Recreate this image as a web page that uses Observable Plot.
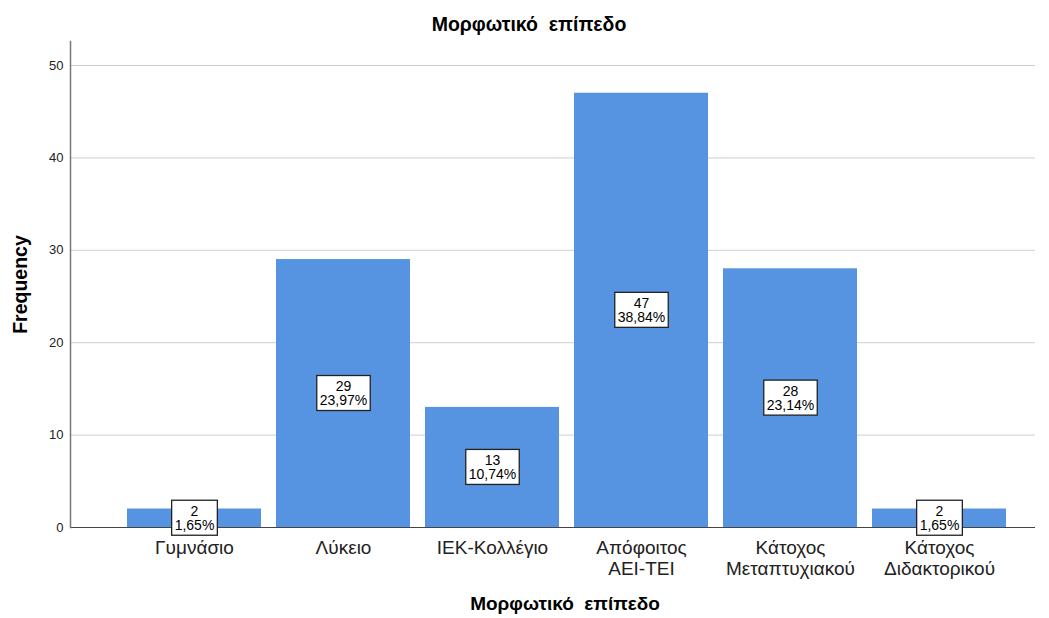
<!DOCTYPE html>
<html>
<head>
<meta charset="utf-8">
<script src="https://cdn.jsdelivr.net/npm/d3@7"></script>
<script src="https://cdn.jsdelivr.net/npm/@observablehq/plot@0.6"></script>
<style>
  html, body { margin: 0; padding: 0; background: #fff; }
  body { width: 1049px; height: 618px; overflow: hidden; font-family: "Liberation Sans", Arial, sans-serif; }
  .title { height: 40px; box-sizing: border-box; padding-top: 15px; padding-left: 9px; text-align: center; font-weight: bold; font-size: 19.5px; line-height: 19px; color: #000; white-space: pre; }
  .xlabel { height: 28px; box-sizing: border-box; padding-top: 4px; padding-left: 81px; text-align: center; font-weight: bold; font-size: 19px; line-height: 19px; color: #000; white-space: pre; }
  #chart svg { display: block; }
</style>
</head>
<body>
<div class="title">Μορφωτικό  επίπεδο</div>
<div id="chart"></div>
<div class="xlabel">Μορφωτικό  επίπεδο</div>
<script>
const categories = ["Γυμνάσιο", "Λύκειο", "ΙΕΚ-Κολλέγιο", "Απόφοιτος\nΑΕΙ-ΤΕΙ", "Κάτοχος\nΜεταπτυχιακού", "Κάτοχος\nΔιδακτορικού"];
const counts = [2, 29, 13, 47, 28, 2];
const percents = ["1,65%", "23,97%", "10,74%", "38,84%", "23,14%", "1,65%"];
const yTicks = [0, 10, 20, 30, 40, 50];
const yLabel = "Frequency";

const data = categories.map((c, i) => ({cat: c, count: counts[i], pct: percents[i]}));

const chart = Plot.plot({
  width: 1049,
  height: 550,
  marginTop: 1,
  marginBottom: 63,
  marginLeft: 70,
  marginRight: 14,
  style: {fontFamily: '"Liberation Sans", Arial, sans-serif', background: "#fff"},
  x: {type: "band", domain: categories, range: [119.5, 1013.5], paddingInner: 0.1, paddingOuter: 0.05, label: null},
  y: {domain: [0, 52.6], label: null},
  marks: [
    Plot.gridY({ticks: yTicks, stroke: "#cfcfcf", strokeOpacity: 1}),
    Plot.barY(data, {x: "cat", y: "count", fill: "#5694e2"}),
    Plot.ruleY([0], {stroke: "#444", strokeWidth: 1.2}),
    Plot.frame({anchor: "left", stroke: "#777", strokeWidth: 1.5}),
    Plot.axisY({ticks: yTicks, tickSize: 0, tickPadding: 7, fontSize: 13, fill: "#222", label: null}),
    Plot.axisX({tickSize: 0, tickPadding: 12, fontSize: 19, lineHeight: 1.08, fill: "#222", label: null}),
    Plot.text([yLabel], {frameAnchor: "left", textAnchor: "middle", rotate: -90, dx: -50, fontSize: 19.5, fontWeight: "bold", fill: "#000"}),
    Plot.text(data, {x: "cat", y: d => d.count / 2, text: d => `${d.count}\n${d.pct}`, fontSize: 14, lineHeight: 1.0, fill: "#000"})
  ]
});

document.getElementById("chart").appendChild(chart);

// draw white boxes behind each bar label
const ns = "http://www.w3.org/2000/svg";
Array.from(chart.querySelectorAll("text"))
  .filter(t => t.textContent.includes("%"))
  .forEach(t => {
    const bb = t.getBBox();
    const r = document.createElementNS(ns, "rect");
    const padX = 3, padY = 2.5;
    r.setAttribute("x", bb.x - padX);
    r.setAttribute("y", bb.y - padY);
    r.setAttribute("width", bb.width + 2 * padX);
    r.setAttribute("height", bb.height + 2 * padY);
    r.setAttribute("fill", "#fff");
    r.setAttribute("stroke", "#222");
    r.setAttribute("stroke-width", "1.3");
    const tr = t.getAttribute("transform");
    if (tr) r.setAttribute("transform", tr);
    t.parentNode.insertBefore(r, t);
  });
</script>
</body>
</html>
